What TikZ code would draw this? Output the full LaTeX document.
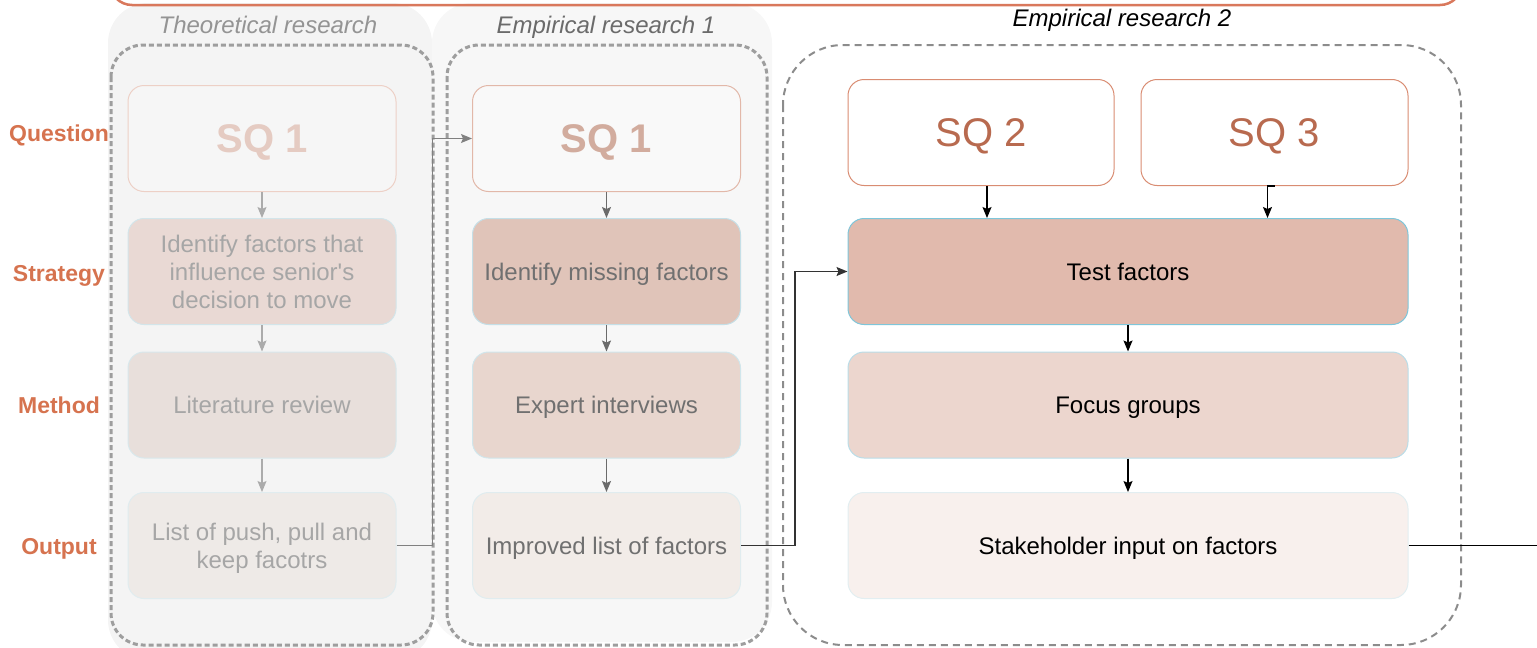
\documentclass[tikz,border=0pt]{standalone}
\usepackage{fontspec}
\setmainfont{Liberation Sans}
\usetikzlibrary{arrows.meta}
\definecolor{labelorange}{HTML}{D6734F}
\definecolor{topline}{HTML}{D9785C}
\definecolor{sqtext}{HTML}{B86A4F}
\definecolor{sqline}{HTML}{D98C72}
\definecolor{testfill}{HTML}{E1BAAD}
\definecolor{testline}{HTML}{7EC6DA}
\definecolor{focusfill}{HTML}{ECD6CE}
\definecolor{focusline}{HTML}{B9DDE8}
\definecolor{stakefill}{HTML}{F8F0ED}
\definecolor{stakeline}{HTML}{E2EEF1}
\definecolor{panelA}{HTML}{F4F4F4}
\definecolor{panelB}{HTML}{F7F7F7}
% faded columns
\definecolor{sqAline}{HTML}{EDD0C6}
\definecolor{sqAfill}{HTML}{F6F6F6}
\definecolor{sqAtext}{HTML}{E5CBC2}
\definecolor{straAline}{HTML}{D3E5EA}
\definecolor{straAfill}{HTML}{E9D9D4}
\definecolor{methAline}{HTML}{D8E8EC}
\definecolor{methAfill}{HTML}{E8DFDB}
\definecolor{outpAline}{HTML}{E0ECEF}
\definecolor{outpAfill}{HTML}{EEEAE7}
\definecolor{sqBline}{HTML}{E2B8A9}
\definecolor{sqBfill}{HTML}{F9F9F9}
\definecolor{sqBtext}{HTML}{D2AC9E}
\definecolor{straBline}{HTML}{C5DFE7}
\definecolor{straBfill}{HTML}{E0C4B9}
\definecolor{methBline}{HTML}{D0E6EC}
\definecolor{methBfill}{HTML}{E8D6CE}
\definecolor{outpBfill}{HTML}{F2ECE8}
\begin{document}
\begin{tikzpicture}[>={Stealth[length=11pt,width=9pt,inset=2pt]},x=1pt,y=-1pt,
	box/.style={rounded corners=16pt,minimum width=268pt,minimum height=106pt,align=center,line width=1pt,text depth=0pt,font=\fontsize{24}{28}\selectfont},
	sqbox/.style={box,font=\fontsize{40}{44}\selectfont},
	rowlabel/.style={text=labelorange,text depth=0pt,font=\fontsize{23}{26}\selectfont\bfseries},
	title/.style={text depth=0pt,font=\fontsize{24}{28}\selectfont\itshape},
	frame/.style={dash pattern=on 5pt off 3pt,line width=3pt,color=black!38},
	flow/.style={->,line width=1.2pt}]
	\useasboundingbox (0,0) rectangle (1537,648);
	% background panels and frames
	\fill[panelA,rounded corners=40pt] (108,3) rectangle (432,660);
	\fill[panelB,rounded corners=40pt] (432,3) rectangle (772,642);
	\draw[topline,line width=2.5pt,rounded corners=22pt] (110,-60) rectangle (1462,5);
	\draw[frame,rounded corners=32pt] (111,45) rectangle (433,645);
	\draw[frame,rounded corners=32pt] (447,45) rectangle (767,645);
	\draw[dash pattern=on 7pt off 5pt,line width=2pt,color=black!45,rounded corners=60pt] (783,45) rectangle (1461,645);
	% titles
	\node[title,text=black!42] (tTheo) at (268,25) {Theoretical research};
	\node[title,text=black!58] (tEmpA) at (606,25) {Empirical research 1};
	\node[title] (tEmpB) at (1122,18) {Empirical research 2};
	% row labels
	\node[rowlabel] (lQues) at (59,133) {Question};
	\node[rowlabel] (lStra) at (59,273) {Strategy};
	\node[rowlabel] (lMeth) at (59,405) {Method};
	\node[rowlabel] (lOutp) at (59,546) {Output};
	% theoretical research
	\node[sqbox,draw=sqAline,fill=sqAfill,text=sqAtext,font=\fontsize{40}{44}\selectfont\bfseries] (q1a) at (262,138.5) {SQ 1};
	\node[box,draw=straAline,fill=straAfill,text=black!35] (s1a) at (262,271.5) {Identify factors that\\influence senior\textquotesingle s\\decision to move};
	\node[box,draw=methAline,fill=methAfill,text=black!35] (m1a) at (262,405) {Literature review};
	\node[box,draw=outpAline,fill=outpAfill,text=black!35] (o1a) at (262,545.5) {List of push, pull and\\keep facotrs};
	% empirical research 1
	\node[sqbox,draw=sqBline,fill=sqBfill,text=sqBtext,font=\fontsize{40}{44}\selectfont\bfseries] (q1b) at (606.5,138.5) {SQ 1};
	\node[box,draw=straBline,fill=straBfill,text=black!56] (s1b) at (606.5,271.5) {Identify missing factors};
	\node[box,draw=methBline,fill=methBfill,text=black!56] (m1b) at (606.5,405) {Expert interviews};
	\node[box,draw=outpAline,fill=outpBfill,text=black!56] (o1b) at (606.5,545.5) {Improved list of factors};
	% empirical research 2
	\node[sqbox,draw=sqline,fill=white,text=sqtext,minimum width=266pt] (sq2) at (981,132.5) {SQ 2};
	\node[sqbox,draw=sqline,fill=white,text=sqtext,minimum width=267pt] (sq3) at (1274.5,132.5) {SQ 3};
	\node[box,draw=testline,fill=testfill,minimum width=560pt] (test) at (1128,271.5) {Test factors};
	\node[box,draw=focusline,fill=focusfill,minimum width=560pt] (focus) at (1128,405) {Focus groups};
	\node[box,draw=stakeline,fill=stakefill,minimum width=560pt] (stake) at (1128,545.5) {Stakeholder input on factors};
	\coordinate (exit) at (1537,545.5);
	% connectors
	\draw[flow,black!33] (q1a) -- (s1a);
	\draw[flow,black!33] (s1a) -- (m1a);
	\draw[flow,black!33] (m1a) -- (o1a);
	\draw[flow,black!50] (o1a.east) -- ++(36,0) |- (q1b.west);
	\draw[flow,black!58] (q1b) -- (s1b);
	\draw[flow,black!58] (s1b) -- (m1b);
	\draw[flow,black!58] (m1b) -- (o1b);
	\draw[flow,black!80] (o1b.east) -- ++(54,0) |- (test.west);
	\draw[flow] ([xshift=6pt]sq2.south) -- ([xshift=6pt]sq2.south |- test.north);
	\draw[flow] (sq3.south) -- ++(-7,0) -- ([xshift=-7pt]sq3.south |- test.north);
	\draw[flow] (test) -- (focus);
	\draw[flow] (focus) -- (stake);
	\draw[line width=1.2pt] (stake.east) -- (stake.east -| exit);
\end{tikzpicture}
\end{document}
